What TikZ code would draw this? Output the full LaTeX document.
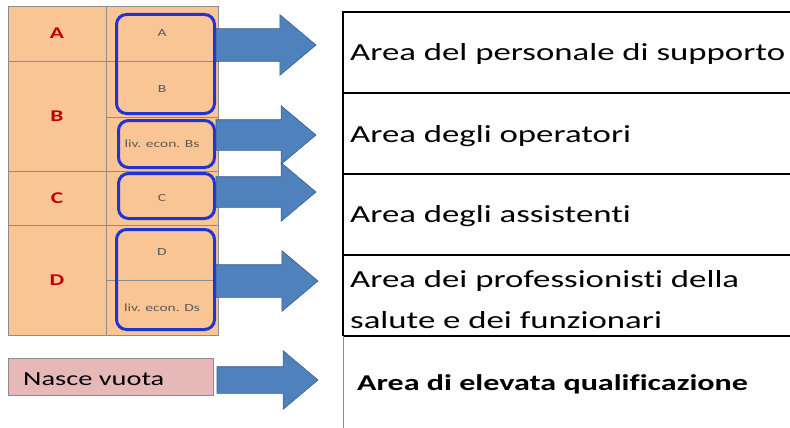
\documentclass[tikz,border=0pt]{standalone}
\usepackage{fontspec}
\setmainfont{Carlito}[FakeStretch=1.42, Ligatures={NoCommon}]
\usetikzlibrary{positioning}
\usetikzlibrary{shapes.arrows}
\definecolor{peach}{RGB}{250, 197, 148}
\definecolor{grid-gray}{RGB}{140, 140, 140}
\definecolor{label-red}{RGB}{192, 0, 0}
\definecolor{label-gray}{RGB}{89, 89, 89}
\definecolor{group-blue}{RGB}{32, 52, 214}
\definecolor{arrow-blue}{RGB}{79, 129, 189}
\definecolor{arrow-edge}{RGB}{56, 93, 138}
\definecolor{empty-pink}{RGB}{230, 184, 183}

\begin{document}
\begin{tikzpicture}[x=1pt, y=-1pt,
    cell/.style={draw=grid-gray, fill=peach, line width=0.7pt, inner sep=0pt, outer sep=0pt, anchor=north west},
    oldcat/.style={cell, minimum width=98pt, text=label-red, font=\fontsize{16.4}{19}\selectfont\bfseries},
    oldlev/.style={cell, minimum width=112pt, text=label-gray, font=\fontsize{10.9}{13}\selectfont},
    group/.style={draw=group-blue, line width=3pt, rounded corners=10pt, inner sep=0pt, anchor=north west},
    blockarrow/.style={single arrow, draw=arrow-edge, fill=arrow-blue, line width=0.6pt, single arrow tip angle=80,
      single arrow head extend=14pt, inner xsep=0pt, inner ysep=15pt, outer sep=0pt, anchor=tail, minimum height=100pt},
    areatext/.style={anchor=base west, inner sep=0pt, font=\fontsize{24.5}{29}\selectfont}]
\useasboundingbox (0,0) rectangle (790,428);

% old categories
\node[oldcat, minimum height=55pt] (A) at (8,6) {A};
\node[oldcat, minimum height=110pt, below=0pt of A] (B) {B};
\node[oldcat, minimum height=54pt, below=0pt of B] (C) {C};
\node[oldcat, minimum height=110pt, below=0pt of C] (D) {D};

\node[oldlev, minimum height=55pt, right=0pt of A] (levA) {A};
\node[oldlev, minimum height=56pt, below=0pt of levA] (levB) {B};
\node[oldlev, minimum height=54pt, below=0pt of levB] (levBs) {liv. econ. Bs};
\node[oldlev, minimum height=54pt, below=0pt of levBs] (levC) {C};
\node[oldlev, minimum height=55pt, below=0pt of levC] (levD) {D};
\node[oldlev, minimum height=55pt, below=0pt of levD] (levDs) {liv. econ. Ds};

% groupings
\node[group, minimum width=98pt, minimum height=99pt] (gAB) at (115,13) {};
\node[group, minimum width=96pt, minimum height=47pt] (gBs) at (117,119) {};
\node[group, minimum width=96pt, minimum height=45pt] (gC) at (117,172) {};
\node[group, minimum width=98pt, minimum height=100pt] (gD) at (115,228) {};

\node[draw=grid-gray, fill=empty-pink, line width=0.6pt, anchor=north west, minimum width=205pt, minimum height=37pt,
  inner sep=0pt] (nv) at (8,358) {};
\node[anchor=base west, inner sep=0pt, font=\fontsize{20}{24}\selectfont] (nvtext) at (23,385) {Nasce vuota};

% arrows
\node[blockarrow, inner ysep=16pt] (arAB) at (gAB.east |- 0,45) {};
\node[blockarrow] (arBs) at (gBs.east |- 0,135) {};
\node[blockarrow] (arC) at (gC.east |- 0,192) {};
\node[blockarrow, inner ysep=16pt, minimum height=102pt] (arD) at (gD.east |- 0,281) {};
\node[blockarrow, inner ysep=13pt, single arrow head extend=16pt, minimum height=101pt] (arNv) at (217,380) {};

% new areas
\draw[line width=2pt] (343,12) -- (800,12);
\draw[line width=1.5pt] (343,93) -- (800,93);
\draw[line width=1.5pt] (343,174) -- (800,174);
\draw[line width=1.5pt] (343,255) -- (800,255);
\draw[line width=1.5pt] (343,336) -- (800,336);
\draw[line width=2pt] (343,11) -- (343,336);
\draw[grid-gray, line width=0.7pt] (343,336) -- (343,428);

\node[areatext] (r1) at (350,61) {Area del personale di supporto};
\node[areatext] (r2) at (350,142) {Area degli operatori};
\node[areatext] (r3) at (350,222) {Area degli assistenti};
\node[areatext] (r4) at (350,287) {Area dei professionisti della};
\node[areatext] (r4b) at (350,328) {salute e dei funzionari};
\node[areatext, font=\fontsize{22.6}{27}\selectfont\bfseries] (r5) at (357,390) {Area di elevata qualificazione};

\end{tikzpicture}
\end{document}
